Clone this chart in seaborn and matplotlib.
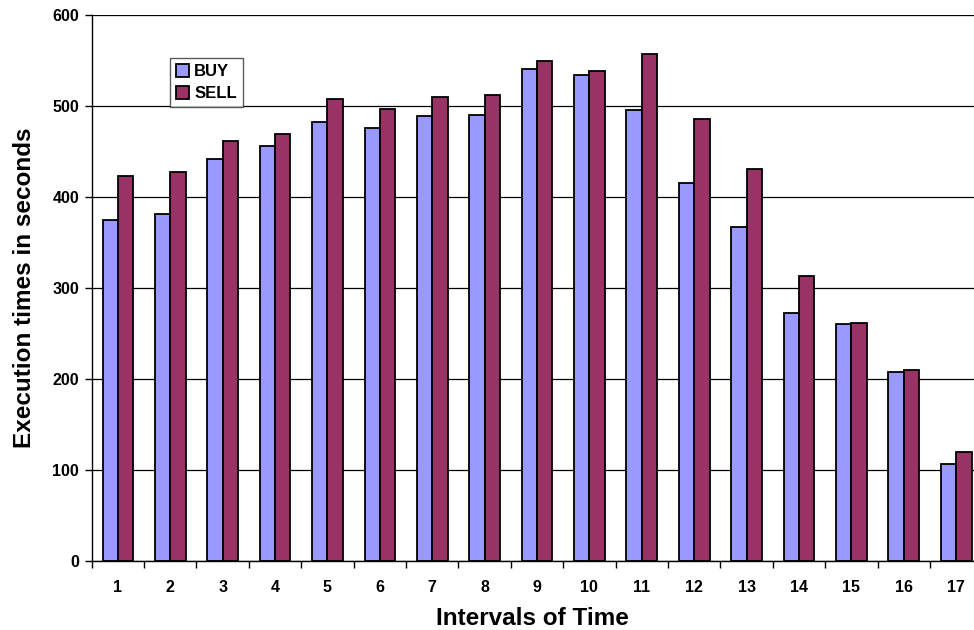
import matplotlib
matplotlib.use("Agg")
import matplotlib.pyplot as plt
import seaborn as sns
import pandas as pd
import numpy as np
from matplotlib.ticker import FixedLocator

intervals = [str(i) for i in range(1, 18)]
buy = [375, 381, 442, 456, 482, 476, 489, 490, 541, 534, 496, 415, 367, 272, 260, 208, 107]
sell = [423, 427, 461, 469, 508, 497, 510, 512, 549, 539, 557, 486, 431, 313, 262, 210, 120]
series = ["BUY", "SELL"]
colors = {"BUY": "#9999FF", "SELL": "#993366"}
yticks = [0, 100, 200, 300, 400, 500, 600]

df = pd.DataFrame({
    "interval": intervals * 2,
    "value": buy + sell,
    "type": ["BUY"] * len(buy) + ["SELL"] * len(sell),
})

sns.set_style("white")
plt.rcParams["font.family"] = ["Liberation Sans", "DejaVu Sans"]
plt.rcParams["font.weight"] = "bold"
for k in ["text.color", "axes.labelcolor", "xtick.color", "ytick.color"]:
    plt.rcParams[k] = "black"

fig = plt.figure(figsize=(9.74, 6.30), dpi=100)
ax = fig.add_axes([0.0941, 0.1095, 0.9059, 0.8667])

sns.barplot(data=df, x="interval", y="value", hue="type", order=intervals,
            hue_order=series, palette=colors, width=0.585, gap=0,
            edgecolor="black", linewidth=1.3, saturation=1, ax=ax, errorbar=None)

ax.set_ylim(0, 600)
ax.set_xlim(-0.5, 16.34)
ax.set_yticks(yticks)
ax.yaxis.grid(True, color="black", linewidth=0.9)
ax.set_axisbelow(True)
for s in ["top", "right"]:
    ax.spines[s].set_visible(False)
for s in ["left", "bottom"]:
    ax.spines[s].set_color("black")
    ax.spines[s].set_linewidth(1.0)

ax.xaxis.set_minor_locator(FixedLocator(np.arange(-0.5, 17, 1)))
ax.tick_params(axis="x", which="major", length=0, pad=14, labelsize=11.5)
ax.tick_params(axis="x", which="minor", length=5, width=1, color="black", direction="out")
ax.tick_params(axis="y", which="major", length=5, width=1, color="black", direction="out",
               labelsize=11.5, pad=4)
ax.tick_params(left=True, bottom=True)
ax.xaxis.set_tick_params(which="minor", bottom=True)
for lab in ax.get_xticklabels() + ax.get_yticklabels():
    lab.set_fontweight("bold")

ax.set_xlabel("Intervals of Time", fontsize=17.5, fontweight="bold", labelpad=8)
ax.set_ylabel("Execution times in seconds", fontsize=17.5, fontweight="bold", labelpad=12)

leg = ax.legend(loc="upper left", bbox_to_anchor=(0.0887, 0.921), borderaxespad=0,
                frameon=True, fancybox=False, handlelength=0.8, handleheight=0.8,
                handletextpad=0.3, labelspacing=0.4, borderpad=0.35,
                prop={"weight": "bold", "size": 12})
leg.get_frame().set_edgecolor("#333333")
leg.get_frame().set_linewidth(1.0)
leg.set_title(None)

fig.savefig("out.png", dpi=100)
